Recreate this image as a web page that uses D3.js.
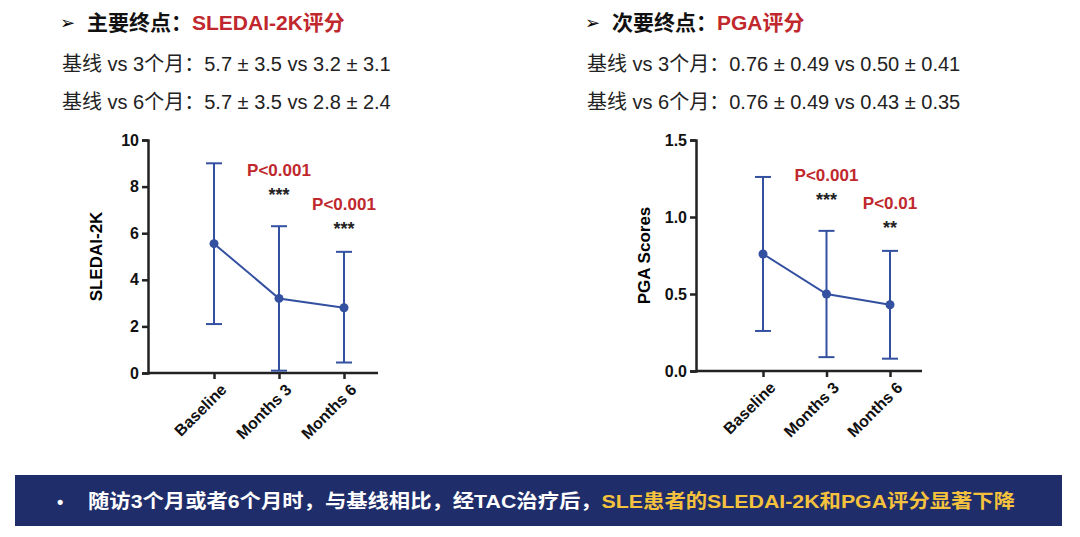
<!DOCTYPE html>
<html><head><meta charset="utf-8">
<script src="https://cdn.jsdelivr.net/npm/d3@7"></script>
<style>body{margin:0;background:#fff;font-family:"Liberation Sans","Noto Sans CJK SC",sans-serif}</style>
</head><body>
<svg id="c" width="1080" height="537"></svg>
<script>
const categories = ['Baseline', 'Months 3', 'Months 6'];
const sledaiMean = [5.55, 3.2, 2.8];
const sledaiLow = [2.1, 0.1, 0.45];
const sledaiHigh = [9.0, 6.3, 5.2];
const sledaiTicks = [0, 2, 4, 6, 8, 10];
const sledaiP = [null, 'P<0.001', 'P<0.001'];
const sledaiStars = [null, '***', '***'];
const pgaMean = [0.76, 0.50, 0.43];
const pgaLow = [0.26, 0.09, 0.08];
const pgaHigh = [1.26, 0.91, 0.78];
const pgaTicks = [0, 0.5, 1.0, 1.5];
const pgaP = [null, 'P<0.001', 'P<0.01'];
const pgaStars = [null, '***', '**'];

const svg = d3.select('#c');
const blue = '#3450a0', red = '#c0282d';
const FONT = '"Liberation Sans","Noto Sans CJK SC",sans-serif';

function header(x, title, red1, lines) {
  svg.append('text').attr('x', x).attr('y', 29).attr('font-size', 18).attr('font-family', FONT).text('➢');
  const t = svg.append('text').attr('x', x + 27).attr('y', 30).attr('font-size', 21).attr('font-weight', 'bold').attr('font-family', FONT);
  t.append('tspan').text(title).attr('fill', '#111');
  t.append('tspan').text(red1).attr('fill', red);
  lines.forEach((l, i) => svg.append('text').attr('x', x + 2).attr('y', 71 + i * 38)
    .attr('font-size', 20).attr('fill', '#222').attr('font-family', FONT).text(l));
}
header(60, '主要终点：', 'SLEDAI-2K评分', ['基线 vs 3个月：5.7 ± 3.5 vs 3.2 ± 3.1', '基线 vs 6个月：5.7 ± 3.5 vs 2.8 ± 2.4']);
header(585, '次要终点：', 'PGA评分', ['基线 vs 3个月：0.76 ± 0.49 vs 0.50 ± 0.41', '基线 vs 6个月：0.76 ± 0.49 vs 0.43 ± 0.35']);

function panel(o) {
  const g = svg.append('g');
  const y = d3.scaleLinear().domain(o.domain).range([o.y0, o.y1]);
  const x = d3.scalePoint().domain(categories).range(o.xr);
  const ya = g.append('g').attr('transform', `translate(${o.ax},0)`)
    .call(d3.axisLeft(y).tickValues(o.ticks).tickFormat(o.fmt).tickSize(6));
  const xa = g.append('g').attr('transform', `translate(0,${o.y0})`)
    .call(d3.axisBottom(x).tickSize(6));
  xa.select('.domain').attr('d', `M${o.ax},0H${o.xend}`);
  [ya, xa].forEach(a => {
    a.attr('font-size', 16).attr('font-family', 'Liberation Sans, Arial');
    a.selectAll('.domain,line').attr('stroke', '#222').attr('stroke-width', 2.5);
    a.selectAll('text').attr('font-weight', 'bold').attr('fill', '#111');
  });
  xa.selectAll('text').attr('text-anchor', 'end').attr('dx', '-0.2em').attr('dy', '0.8em')
    .attr('transform', 'rotate(-45)');
  g.append('text').attr('transform', `translate(${o.ax - 46},${(o.y0 + o.y1) / 2}) rotate(-90)`)
    .attr('text-anchor', 'middle').attr('font-size', 17).attr('font-weight', 'bold').attr('font-family', 'Liberation Sans, Arial').text(o.label);
  categories.forEach((c, i) => {
    const cx = x(c);
    g.append('line').attr('x1', cx).attr('x2', cx).attr('y1', y(o.low[i])).attr('y2', y(o.high[i]))
      .attr('stroke', blue).attr('stroke-width', 2);
    [o.low[i], o.high[i]].forEach(v => g.append('line').attr('x1', cx - 8).attr('x2', cx + 8)
      .attr('y1', y(v)).attr('y2', y(v)).attr('stroke', blue).attr('stroke-width', 2));
    if (o.p[i]) {
      g.append('text').attr('x', cx).attr('y', y(o.high[i]) - (i === 1 ? 50 : 42)).attr('text-anchor', 'middle')
        .attr('font-size', 17).attr('font-weight', 'bold').attr('fill', red).attr('font-family', 'Liberation Sans, Arial').text(o.p[i]);
      g.append('text').attr('x', cx).attr('y', y(o.high[i]) - (i === 1 ? 25 : 17)).attr('text-anchor', 'middle')
        .attr('font-size', 18).attr('font-weight', 'bold').attr('fill', '#222').attr('font-family', 'Liberation Sans, Arial').text(o.stars[i]);
    }
  });
  g.append('path').datum(o.mean).attr('fill', 'none').attr('stroke', blue).attr('stroke-width', 2)
    .attr('d', d3.line().x((d, i) => x(categories[i])).y(d => y(d)));
  g.selectAll('circle.m').data(o.mean).join('circle').attr('cx', (d, i) => x(categories[i]))
    .attr('cy', d => y(d)).attr('r', 4.5).attr('fill', blue);
}
panel({domain: [0, 10], y0: 373, y1: 140, xr: [214, 344], ax: 148, xend: 378, ticks: sledaiTicks,
  fmt: d3.format('d'), label: 'SLEDAI-2K', mean: sledaiMean, low: sledaiLow, high: sledaiHigh, p: sledaiP, stars: sledaiStars});
panel({domain: [0, 1.5], y0: 371, y1: 140, xr: [763, 890], ax: 696, xend: 922, ticks: pgaTicks,
  fmt: d3.format('.1f'), label: 'PGA Scores', mean: pgaMean, low: pgaLow, high: pgaHigh, p: pgaP, stars: pgaStars});

svg.append('rect').attr('x', 15).attr('y', 475).attr('width', 1047).attr('height', 51).attr('fill', '#1f2d6b');
svg.append('text').attr('x', 57).attr('y', 508).attr('font-size', 18).attr('fill', '#fff').attr('font-weight', 'bold').text('•');
const b = svg.append('text').attr('x', 88).attr('y', 508).attr('font-size', 19).attr('font-weight', 'bold').attr('font-family', FONT)
  .attr('textLength', 927).attr('lengthAdjust', 'spacingAndGlyphs');
b.append('tspan').attr('fill', '#fff').text('随访3个月或者6个月时，与基线相比，经TAC治疗后，');
b.append('tspan').attr('fill', '#f4c23c').text('SLE患者的SLEDAI-2K和PGA评分显著下降');
</script>
</body></html>
